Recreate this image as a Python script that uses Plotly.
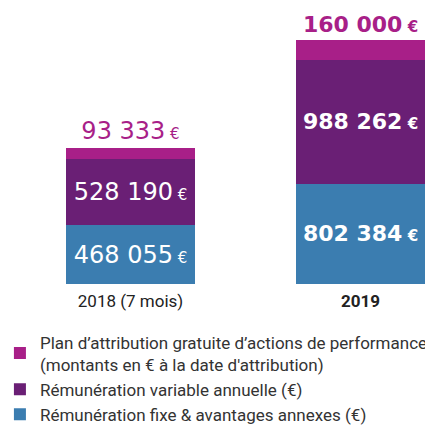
import plotly.graph_objects as go

# ─── Data ────────────────────────────────────────────────────────────────────

categories = ["2018 (7 mois)", "2019"]
tick_labels = ["2018 (7 mois)", "<b>2019</b>"]
fixe = [468055, 802384]
variable = [528190, 988262]
plan = [93333, 160000]

series_names = [
    "Rémunération fixe & avantages annexes (€)",
    "Rémunération variable annuelle (€)",
    "Plan d’attribution gratuite d’actions de performance<br>(montants en € à la date d'attribution)",
]
colors = ["#3B7DB0", "#6A1F75", "#A81F88"]
bold = [False, True]
label_sizes = [24, 22]


def euro(v, b):
    s = f"{v:,}".replace(",", " ") + "<span style='font-size:15px'> €</span>"
    return f"<b>{s}</b>" if b else s


NUM_FONT = "DejaVu Sans"

fig = go.Figure()
for vals, name, col, pos in zip([fixe, variable, plan], series_names, colors,
                                ["inside", "inside", "outside"]):
    fig.add_trace(go.Bar(
        x=categories, y=vals, name=name,
        marker=dict(color=col, line=dict(width=0)),
        width=0.56,
        text=[euro(v, b) for v, b in zip(vals, bold)],
        texttemplate="%{text}",
        textposition=pos,
        insidetextanchor="middle",
        constraintext="none",
        cliponaxis=False,
        textfont=dict(family=NUM_FONT, size=label_sizes,
                      color="white" if pos == "inside" else col),
        hoverinfo="skip",
    ))

# page body adds an 8px offset, so the figure is 8px smaller than the window
fig.update_layout(
    barmode="stack",
    width=425, height=419,
    margin=dict(l=0, r=0, t=0, b=142.5, autoexpand=False),
    plot_bgcolor="white", paper_bgcolor="white",
    xaxis=dict(
        range=[-0.5326, 1.3152], tickvals=categories, ticktext=tick_labels,
        showgrid=False, zeroline=False, showline=False, ticks="",
        ticklabelstandoff=5,
        tickfont=dict(family="Roboto", size=17, color="#222"),
    ),
    yaxis=dict(range=[0, 2207850], visible=False),
    legend=dict(
        x=-0.019, y=-0.1465, xanchor="left", yanchor="top",
        font=dict(family="Roboto", size=17, color="#333"),
        traceorder="reversed", tracegroupgap=9,
        bgcolor="rgba(0,0,0,0)",
    ),
)

fig.write_html("out.html")
